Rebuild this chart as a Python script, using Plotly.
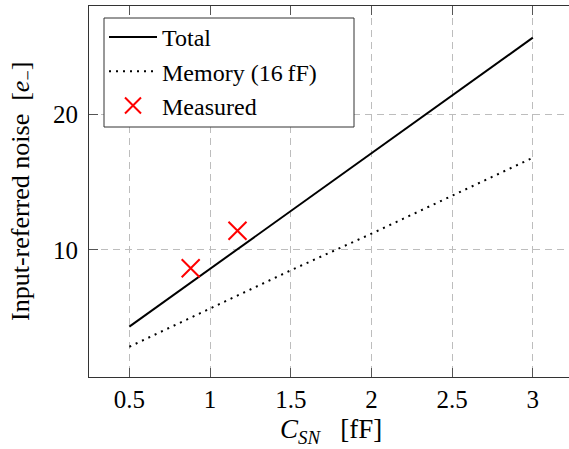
import plotly.graph_objects as go

c_sn = [0.5, 1.0, 1.5, 2.0, 2.5, 3.0]
total_noise = [4.35, 8.6, 12.9, 17.1, 21.35, 25.65]
memory_noise = [2.87, 5.7, 8.5, 11.2, 14.0, 16.8]
meas_c = [0.88, 1.17]
meas_noise = [8.65, 11.42]

x_ticks = [0.5, 1, 1.5, 2, 2.5, 3]
x_tick_labels = ["0.5", "1", "1.5", "2", "2.5", "3"]
y_ticks = [10, 20]
y_tick_labels = ["10", "20"]

FONT = "Liberation Serif"

fig = go.Figure()
fig.add_trace(go.Scatter(x=c_sn, y=total_noise, mode="lines", name="Total",
                         line=dict(color="black", width=2)))
fig.add_trace(go.Scatter(x=c_sn, y=memory_noise, mode="lines", name="Memory (16\u2009fF)",
                         line=dict(color="black", width=2, dash="2px,5px")))
fig.add_trace(go.Scatter(x=meas_c, y=meas_noise, mode="markers", name="Measured",
                         marker=dict(symbol="x-thin", size=18, color="red",
                                     line=dict(color="red", width=2))))

W, H = 569, 449
L, T, B, R = 89, 6, 72, 0
pw = W - L - R
ph = H - T - B

def px(xp):
    return (xp - L) / pw

def py(yp):
    return (H - B - yp) / ph

fig.update_layout(
    width=W, height=H,
    margin=dict(l=L, r=R, t=T, b=B, pad=0),
    plot_bgcolor="white", paper_bgcolor="white",
    font=dict(family=FONT, size=24, color="black"),
    showlegend=True,
    legend=dict(x=px(104), y=py(15), xanchor="left", yanchor="top",
                bgcolor="rgba(0,0,0,0)", borderwidth=0,
                font=dict(family=FONT, size=24, color="black"),
                tracegroupgap=0, itemwidth=48),
)
# legend frame
fig.add_shape(type="rect", xref="paper", yref="paper",
              x0=px(104), x1=px(354), y0=py(127), y1=py(18),
              fillcolor="white", line=dict(color="#333333", width=1), layer="above")

fig.update_xaxes(
    range=[0.25, 0.25 + pw / 161.4], tickvals=x_ticks, ticktext=x_tick_labels,
    showline=True, linecolor="#333333", linewidth=1, mirror="ticks",
    ticks="inside", ticklen=9, tickcolor="#555555", tickwidth=1,
    showgrid=True, gridcolor="#bdbdbd", gridwidth=1, griddash="7px,5px",
    zeroline=False, ticklabelstandoff=0,
    tickfont=dict(family=FONT, size=25, color="black"),
)
fig.update_yaxes(
    range=[0.64, 27.98], tickvals=y_ticks, ticktext=y_tick_labels,
    showline=True, linecolor="#333333", linewidth=1, mirror=False,
    ticks="inside", ticklen=9, tickcolor="#555555", tickwidth=1,
    showgrid=True, gridcolor="#bdbdbd", gridwidth=1, griddash="7px,5px",
    zeroline=False, ticklabelstandoff=5,
    tickfont=dict(family=FONT, size=25, color="black"),
)
fig.add_annotation(text="<i>C</i><sub><i>SN</i></sub>   [fF]", xref="paper", yref="paper",
                   x=px(331), y=py(431), xanchor="center", yanchor="middle",
                   showarrow=False, font=dict(family=FONT, size=27, color="black"))
fig.add_annotation(text="Input-referred noise  [<i>e</i><sub>\u2212</sub>]", xref="paper", yref="paper",
                   x=px(22), y=py(192), xanchor="center", yanchor="middle",
                   textangle=-90, showarrow=False, font=dict(family=FONT, size=26, color="black"))

fig.write_html("out.html")
